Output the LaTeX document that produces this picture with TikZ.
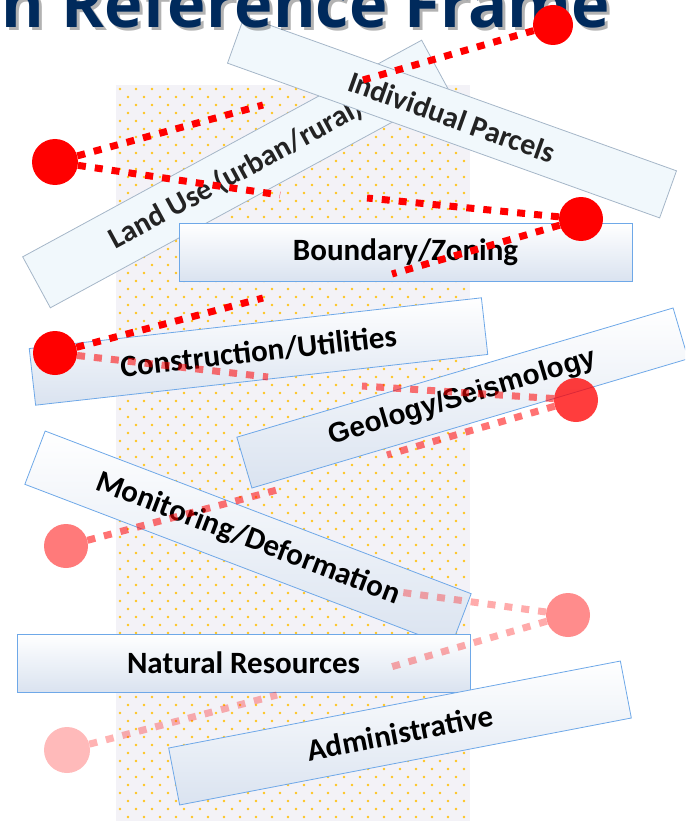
\documentclass[tikz,border=0pt]{standalone}
\usepackage{fontspec}
\newfontfamily\boxfont{Carlito}
\newfontfamily\titlefont{Open Sans}
\newfontfamily\arialfont{Liberation Sans}
\definecolor{navy}{RGB}{0,42,92}
\definecolor{bgcol}{RGB}{243,242,247}
\definecolor{dotcol}{RGB}{255,196,30}
\definecolor{boxline}{RGB}{110,168,232}
\definecolor{boxmid}{RGB}{221,235,248}
\definecolor{boxbot}{RGB}{218,227,240}
\definecolor{fadeline}{RGB}{165,182,200}
\definecolor{fadefill}{RGB}{241,248,252}
\definecolor{fadetext}{RGB}{35,35,35}
\tikzset{
  tbox/.style={draw=boxline, line width=0.8pt, top color=white, middle color=boxmid, bottom color=boxbot,
    minimum width=455pt, minimum height=57pt, inner sep=0pt, text=black,
    font=\boxfont\bfseries\fontsize{31}{31}\selectfont},
  fadebox/.style={draw=fadeline, line width=0.8pt, fill=fadefill, minimum width=455pt, minimum height=57pt,
    inner sep=0pt, text=fadetext, font=\boxfont\bfseries\fontsize{30}{30}\selectfont},
  blob/.style={circle, minimum size=44pt, inner sep=0pt, draw=none},
  dline/.style={line width=7pt, dash pattern=on 8pt off 9pt, red},
}
\begin{document}
\begin{tikzpicture}[x=1pt,y=-1pt]
\useasboundingbox (0,0) rectangle (685,821);
\clip (0,0) rectangle (685,821);
% dotted background
\fill[bgcol] (116,85) rectangle (470,821);
\foreach \j in {0,...,91}{
  \pgfmathsetmacro\off{mod(\j,2)*8}
  \foreach \i in {0,...,21}{
    \fill[dotcol] ({120+\off+16*\i},{89+8*\j}) circle (1.35);
  }
}
% faded boxes
\node[fadebox, rotate=28.5, minimum width=454pt, minimum height=58pt] (landuse) at (236,174) {Land Use (urban/rural)};
\node[fadebox, rotate=-19.7, minimum width=459pt, minimum height=50pt] (parcels) at (452,117) {Individual Parcels};
% title
\node[anchor=base east, inner sep=0pt, text=black, opacity=0.3, font=\titlefont\bfseries\fontsize{65}{65}\selectfont] (titleshadow) at (613,31) {n Reference Frame};
\node[anchor=base east, inner sep=0pt, text=navy, font=\titlefont\bfseries\fontsize{65}{65}\selectfont] (title) at (610,28) {n Reference Frame};
% boxes
\node[tbox, minimum width=453pt, minimum height=58pt] (boundary) at (405.5,252) {Boundary/Zoning};
\node[tbox, rotate=6.4, minimum width=455pt, minimum height=57pt] (construction) at (258.5,351.5) {Construction/Utilities};
\node[tbox, rotate=16.5, minimum width=455pt, minimum height=53pt, font=\arialfont\bfseries\fontsize{28}{28}\selectfont] (geology) at (462.5,398) {Geology/Seismology};
\node[tbox, rotate=-20.9, minimum width=456pt, minimum height=57pt] (monitoring) at (248,539) {Monitoring/Deformation};
\node[tbox, minimum width=453pt, minimum height=58pt] (natural) at (243.5,663) {Natural Resources};
\node[tbox, rotate=10.9, minimum width=460pt, minimum height=58pt] (admin) at (400,733) {Administrative};
% free ends of connectors
\coordinate (eA) at (363,80);
\coordinate (eB1) at (263,105);
\coordinate (eB2) at (280,195);
\coordinate (eC1) at (367,198);
\coordinate (eC2) at (392,274);
\coordinate (eD1) at (263,298);
\coordinate (eD2) at (268,377);
\coordinate (eE1) at (362,386);
\coordinate (eE2) at (387,455);
\coordinate (eF) at (277,490);
\coordinate (eG1) at (399,592);
\coordinate (eG2) at (384,669);
\coordinate (eH) at (277,695);
% circles
\node[blob, fill=red, minimum size=40pt] (cA) at (553,25) {};
\node[blob, fill=red, minimum size=46pt] (cB) at (55,162) {};
\node[blob, fill=red] (cC) at (581,219) {};
\node[blob, fill=red] (cD) at (55,353) {};
\node[blob, fill=red, fill opacity=0.76] (cE) at (576,400) {};
\node[blob, fill=red, fill opacity=0.52] (cF) at (66,546) {};
\node[blob, fill=red, fill opacity=0.45] (cG) at (568,615) {};
\node[blob, fill=red, fill opacity=0.27, minimum size=46pt] (cH) at (67,750) {};
% connectors
\draw[dline] (cA) -- (eA);
\draw[dline] (cB) -- (eB1);
\draw[dline] (cB) -- (eB2);
\draw[dline] (cC) -- (eC1);
\draw[dline] (cC) -- (eC2);
\draw[dline] (cD) -- (eD1);
\draw[dline, draw opacity=0.55] (cD) -- (eD2);
\draw[dline, draw opacity=0.55] (cE) -- (eE1);
\draw[dline, draw opacity=0.55] (cE) -- (eE2);
\draw[dline, draw opacity=0.55] (cF) -- (eF);
\draw[dline, draw opacity=0.33] (cG) -- (eG1);
\draw[dline, draw opacity=0.33] (cG) -- (eG2);
\draw[dline, draw opacity=0.3] (cH) -- (eH);
\end{tikzpicture}
\end{document}
